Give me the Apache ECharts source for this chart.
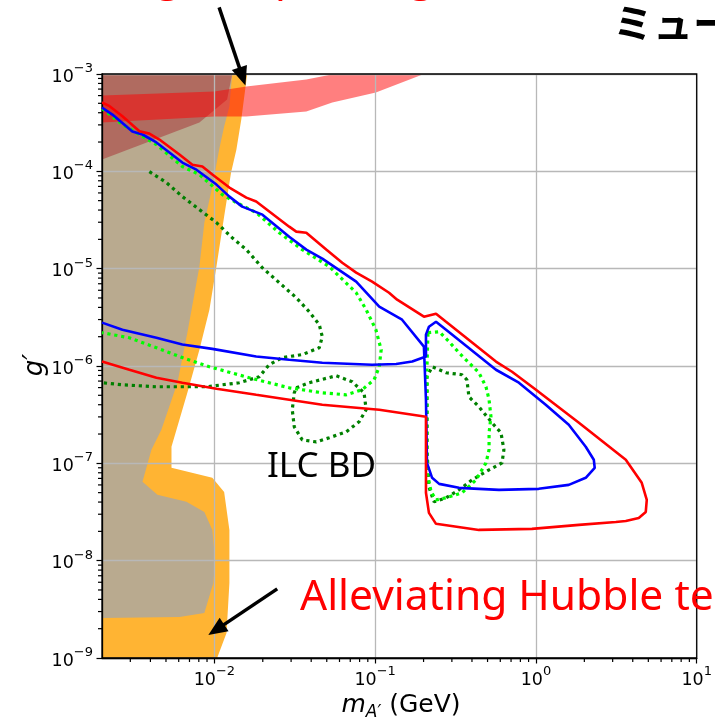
<!DOCTYPE html>
<html><head><meta charset="utf-8">
<script src="https://cdn.jsdelivr.net/npm/echarts@6/dist/echarts.min.js"></script>
<style>html,body{margin:0;padding:0;background:#fff}#c{width:715px;height:722px}</style>
</head><body><div id="c"></div>
<script>
// ---- axis ticks ----
const xMajorTicks = [0.01, 0.1, 1, 10];
const yMajorTicks = [1e-9, 1e-8, 1e-7, 1e-6, 1e-5, 1e-4, 1e-3];
const xMinorTicks = [0.003, 0.004, 0.005, 0.006, 0.007, 0.008, 0.009,
  0.02, 0.03, 0.04, 0.05, 0.06, 0.07, 0.08, 0.09,
  0.2, 0.3, 0.4, 0.5, 0.6, 0.7, 0.8, 0.9,
  2, 3, 4, 5, 6, 7, 8, 9];
const yMinorMantissas = [2, 3, 4, 5, 6, 7, 8, 9];
const yMinorDecades = [1e-9, 1e-8, 1e-7, 1e-6, 1e-5, 1e-4];

// ---- curves (m_A' [GeV], g') ----
const redLine = [[2.0e-3,5.09e-4],[2.23e-3,4.67e-4],[2.68e-3,3.68e-4],[3.42e-3,2.58e-4],[3.94e-3,2.44e-4],[4.55e-3,2.12e-4],[6.06e-3,1.49e-4],[7.30e-3,1.17e-4],[8.42e-3,1.12e-4],[9.71e-3,9.26e-5],[1.24e-2,6.81e-5],[1.58e-2,5.37e-5],[1.82e-2,4.89e-5],[2.92e-2,2.70e-5],[3.23e-2,2.40e-5],[3.73e-2,2.34e-5],[4.96e-2,1.57e-5],[6.24e-2,1.15e-5],[7.62e-2,9.1e-6],[9.57e-2,7.35e-6],[0.122,5.66e-6],[0.137,4.80e-6],[0.201,3.21e-6],[0.239,3.45e-6],[0.276,2.85e-6],[0.564,1.11e-6],[0.710,8.73e-7],[1.00,5.70e-7],[1.85,2.61e-7],[3.62,1.09e-7],[4.55,6.31e-8],[4.89,4.21e-8],[4.82,3.17e-8],[4.36,2.75e-8],[3.62,2.56e-8],[3.14,2.50e-8],[1.85,2.33e-8],[0.944,2.12e-8],[0.442,2.07e-8],[0.239,2.39e-8],[0.216,3.10e-8],[0.207,4.98e-8],[0.207,1.01e-7],[0.207,3.01e-7],[0.106,3.55e-7],[4.69e-2,4.0e-7],[2.92e-2,4.50e-7],[1.82e-2,5.06e-7],[1.03e-2,5.83e-7],[6.32e-3,6.73e-7],[4.36e-3,7.57e-7],[2.96e-3,9.15e-7],[2.0e-3,1.11e-6]];
const blueLine = [[2.0e-3,4.52e-4],[2.32e-3,3.83e-4],[3.09e-3,2.56e-4],[3.57e-3,2.39e-4],[4.36e-3,1.98e-4],[6.32e-3,1.23e-4],[7.73e-3,1.04e-4],[1.03e-2,7.31e-5],[1.24e-2,5.50e-5],[1.49e-2,4.34e-5],[1.99e-2,3.59e-5],[2.92e-2,2.13e-5],[3.73e-2,1.57e-5],[4.69e-2,1.27e-5],[7.62e-2,7.35e-6],[0.106,4.07e-6],[0.147,2.99e-6],[0.201,1.58e-6],[0.207,4.50e-7],[0.210,1.01e-7],[0.226,7.10e-8],[0.250,6.15e-8],[0.332,5.60e-8],[0.589,5.34e-8],[1.04,5.47e-8],[1.60,6.01e-8],[2.04,7.10e-8],[2.32,9.0e-8],[2.29,1.09e-7],[2.04,1.48e-7],[1.60,2.49e-7],[1.15,4.0e-7],[0.783,6.73e-7],[0.564,9.15e-7],[0.276,2.36e-6],[0.239,2.85e-6],[0.216,2.53e-6],[0.207,2.10e-6],[0.207,1.25e-6],[0.170,1.11e-6],[0.135,1.05e-6],[9.57e-2,1.03e-6],[4.69e-2,1.08e-6],[2.92e-2,1.16e-6],[1.82e-2,1.25e-6],[9.71e-3,1.50e-6],[6.32e-3,1.66e-6],[4.36e-3,1.95e-6],[2.68e-3,2.36e-6],[2.0e-3,2.79e-6]];
const limeLeft = [[2.0e-3,4.42e-4],[2.68e-3,3.03e-4],[3.42e-3,2.39e-4],[4.36e-3,1.88e-4],[6.32e-3,1.12e-4],[8.07e-3,9.26e-5],[1.12e-2,5.77e-5],[1.37e-2,4.77e-5],[1.82e-2,3.77e-5],[2.53e-2,2.34e-5],[3.52e-2,1.57e-5],[5.18e-2,1.05e-5],[7.62e-2,5.66e-6],[8.79e-2,3.79e-6],[0.101,2.36e-6],[0.109,1.47e-6],[0.106,9.82e-7],[9.85e-2,7.22e-7],[8.30e-2,5.70e-7],[6.61e-2,5.06e-7],[4.69e-2,5.31e-7],[2.92e-2,5.97e-7],[1.65e-2,7.57e-7],[9.31e-3,9.82e-7],[6.32e-3,1.22e-6],[4.36e-3,1.54e-6],[2.96e-3,1.95e-6],[2.0e-3,2.20e-6]];
const limeRight = [[0.213,2.20e-6],[0.250,2.25e-6],[0.288,1.78e-6],[0.332,1.37e-6],[0.383,1.08e-6],[0.442,8.53e-7],[0.489,6.12e-7],[0.511,4.50e-7],[0.525,3.01e-7],[0.511,2.06e-7],[0.511,1.38e-7],[0.489,1.01e-7],[0.424,6.76e-8],[0.347,4.98e-8],[0.276,4.42e-8],[0.239,4.21e-8],[0.223,5.09e-8],[0.210,7.99e-8],[0.210,2.06e-7],[0.210,9.82e-7],[0.213,2.20e-6]];
const greenLeft = [[3.94e-3,9.94e-5],[5.03e-3,7.66e-5],[6.32e-3,5.50e-5],[8.07e-3,4.04e-5],[1.03e-2,2.97e-5],[1.29e-2,2.08e-5],[1.58e-2,1.57e-5],[1.99e-2,1.02e-5],[2.53e-2,7.18e-6],[3.23e-2,5.03e-6],[3.89e-2,3.61e-6],[4.49e-2,2.66e-6],[4.69e-2,2.0e-6],[4.49e-2,1.54e-6],[3.52e-2,1.31e-6],[2.64e-2,1.22e-6],[2.19e-2,1.03e-6],[1.90e-2,7.75e-7],[1.43e-2,6.73e-7],[8.91e-3,6.12e-7],[4.36e-3,6.12e-7],[2.68e-3,6.41e-7],[2.0e-3,6.73e-7]];
const greenMid = [[3.23e-2,5.97e-7],[3.89e-2,6.73e-7],[5.72e-2,7.94e-7],[7.19e-2,6.89e-7],[8.53e-2,5.31e-7],[8.79e-2,3.55e-7],[7.94e-2,2.67e-7],[6.61e-2,2.11e-7],[5.18e-2,1.83e-7],[4.30e-2,1.66e-7],[3.52e-2,1.74e-7],[3.14e-2,2.37e-7],[3.05e-2,3.55e-7],[3.14e-2,5.31e-7],[3.23e-2,5.97e-7]];
const greenRight = [[0.210,4.50e-7],[0.210,7.75e-7],[0.226,9.82e-7],[0.276,8.53e-7],[0.347,8.13e-7],[0.372,7.22e-7],[0.383,4.83e-7],[0.442,3.81e-7],[0.533,2.61e-7],[0.606,2.06e-7],[0.632,1.38e-7],[0.615,1.01e-7],[0.511,8.57e-8],[0.400,6.76e-8],[0.332,5.34e-8],[0.276,4.42e-8],[0.232,4.02e-8],[0.216,5.73e-8],[0.210,1.38e-7],[0.210,4.50e-7]];

// ---- shaded regions ----
const orangeRegion = [[2.0e-3,1e-9],[1.04e-2,1e-9],[1.19e-2,1.81e-9],[1.24e-2,5.91e-9],[1.24e-2,2.07e-8],[1.15e-2,5.09e-8],[9.71e-3,7.10e-8],[5.41e-3,9.0e-8],[5.41e-3,1.48e-7],[6.79e-3,5.31e-7],[8.07e-3,1.47e-6],[9.31e-3,3.79e-6],[1.03e-2,1.05e-5],[1.15e-2,3.43e-5],[1.27e-2,9.71e-5],[1.37e-2,1.67e-4],[1.47e-2,3.40e-4],[1.60e-2,1e-3],[2.0e-3,1e-3]];
const tanRegion = [[2.0e-3,2.58e-9],[6.06e-3,2.64e-9],[8.66e-3,2.90e-9],[9.85e-3,5.91e-9],[1.01e-2,1.02e-8],[9.71e-3,2.07e-8],[8.66e-3,3.17e-8],[6.70e-3,4.02e-8],[4.42e-3,4.75e-8],[3.57e-3,6.45e-8],[4.06e-3,1.38e-7],[4.68e-3,2.21e-7],[5.89e-3,6.73e-7],[6.79e-3,2.20e-6],[8.07e-3,1.05e-5],[8.66e-3,2.97e-5],[9.71e-3,6.97e-5],[1.07e-2,1.67e-4],[1.15e-2,2.88e-4],[1.24e-2,4.63e-4],[1.29e-2,1e-3],[2.0e-3,1e-3]];
const brownRegion = [[2.0e-3,1e-3],[2.0e-3,1.32e-4],[8.07e-3,3.17e-4],[1.20e-2,5.47e-4],[1.29e-2,1e-3]];
const redBand = [[2.0e-3,6.01e-4],[1.0e-2,6.61e-4],[1.58e-2,7.44e-4],[3.73e-2,8.78e-4],[5.56e-2,1e-3],[0.201,1e-3],[0.101,6.45e-4],[5.41e-2,5.09e-4],[3.73e-2,4.12e-4],[1.58e-2,3.66e-4],[1.0e-2,3.66e-4],[2.0e-3,3.17e-4]];

// ---- annotation arrows (tail, tip) in data coords ----
const arrowTop = [[1.07e-2,4.83e-3],[1.56e-2,7.62e-4]];
const arrowBottom = [[2.46e-2,5.13e-9],[9.17e-3,1.72e-9]];

const X_MIN = 0.002, X_MAX = 10, Y_MIN = 1e-9, Y_MAX = 1e-3;
const chart = echarts.init(document.getElementById('c'), null, {renderer: 'canvas'});

function supLabel(v) {
  const e = Math.round(Math.log10(v));
  return '{b|10}{s|' + (e < 0 ? '\u2212' : '') + Math.abs(e) + '}';
}
const richLab = {
  b: {fontSize: 17.5, fontFamily: 'DejaVu Sans', color: '#000', lineHeight: 24, verticalAlign: 'bottom'},
  s: {fontSize: 13, fontFamily: 'DejaVu Sans', color: '#000', lineHeight: 24, verticalAlign: 'top'}
};

function polySeries(pts, color, opacity, z) {
  return {
    type: 'custom', coordinateSystem: 'cartesian2d', xAxisIndex: 0, yAxisIndex: 0,
    silent: true, z: z, data: pts, encode: {x: 0, y: 1},
    renderItem: function (params, api) {
      if (params.dataIndex !== 0) return null;
      const points = pts.map(p => api.coord(p));
      return {type: 'polygon', shape: {points: points}, style: {fill: color, opacity: opacity, stroke: null}};
    }
  };
}
function lineSeries(pts, color, dotted) {
  return {
    type: 'line', xAxisIndex: 0, yAxisIndex: 0, data: pts, showSymbol: false, symbol: 'none',
    silent: true, z: 6,
    lineStyle: dotted ? {color: color, width: 3.2, type: [3.2, 3.8]} : {color: color, width: 2.6}
  };
}

chart.setOption({
  animation: false,
  backgroundColor: '#fff',
  grid: {left: 102, right: 15, top: 74, bottom: 64, show: true, borderColor: '#000', borderWidth: 1.3, backgroundColor: 'transparent', z: 5},
  xAxis: {
    type: 'log', logBase: 10, min: X_MIN, max: X_MAX,
    position: 'bottom', z: 4,
    axisLine: {show: true, lineStyle: {color: '#000', width: 1.3}},
    axisTick: {show: true, length: 5.5, customValues: xMajorTicks, lineStyle: {color: '#000', width: 1.2}},
    axisLabel: {show: true, customValues: xMajorTicks, margin: 7, formatter: supLabel, rich: richLab},
    splitLine: {show: true, lineStyle: {color: '#b8b8b8', width: 1.3}},
    minorTick: {show: false}
  },
  yAxis: {
    type: 'log', logBase: 10, min: Y_MIN, max: Y_MAX,
    position: 'left', z: 4,
    axisLine: {show: true, lineStyle: {color: '#000', width: 1.3}},
    axisTick: {show: true, length: 5.5, customValues: yMajorTicks, lineStyle: {color: '#000', width: 1.2}},
    axisLabel: {show: true, customValues: yMajorTicks, margin: 9, formatter: supLabel, rich: richLab},
    splitLine: {show: true, lineStyle: {color: '#b8b8b8', width: 1.3}}
  },
  series: [
    polySeries(orangeRegion, '#ffb433', 1, 1),
    polySeries(tanRegion, '#b9aa8f', 1, 1),
    polySeries(brownRegion, '#b06b60', 1, 1),
    polySeries(redBand, '#ff0000', 0.5, 1),
    lineSeries(greenLeft, '#008000', true),
    lineSeries(greenMid, '#008000', true),
    lineSeries(greenRight, '#008000', true),
    lineSeries(limeLeft, '#00ff00', true),
    lineSeries(limeRight, '#00ff00', true),
    lineSeries(blueLine, '#0000ff', false),
    lineSeries(redLine, '#ff0000', false)
  ]
});

function toPx(v) { return chart.convertToPixel({xAxisIndex: 0, yAxisIndex: 0}, v); }

function arrow(pair) {
  const p0 = toPx(pair[0]);
  const p1 = toPx(pair[1]);
  const dx = p1[0] - p0[0], dy = p1[1] - p0[1];
  const L = Math.sqrt(dx * dx + dy * dy);
  const ux = dx / L, uy = dy / L, nx = -uy, ny = ux;
  const hl = 19, hw = 8;
  const bx = p1[0] - ux * hl, by = p1[1] - uy * hl;
  return [
    {type: 'line', z: 20, shape: {x1: p0[0], y1: p0[1], x2: bx + ux * 2, y2: by + uy * 2}, style: {stroke: '#000', lineWidth: 3.5}},
    {type: 'polygon', z: 20, shape: {points: [[p1[0], p1[1]], [bx + nx * hw, by + ny * hw], [bx - nx * hw, by - ny * hw]]}, style: {fill: '#000'}}
  ];
}
// matplotlib-style log minor ticks, positioned through the axis scales
const minorTicks = [];
for (let i = 0; i < xMinorTicks.length; i++) {
  const p = toPx([xMinorTicks[i], Y_MIN]);
  minorTicks.push({type: 'line', z: 30, shape: {x1: p[0], y1: p[1], x2: p[0], y2: p[1] + 4}, style: {stroke: '#000', lineWidth: 1.2}});
}
for (let d = 0; d < yMinorDecades.length; d++) {
  for (let k = 0; k < yMinorMantissas.length; k++) {
    const p = toPx([X_MIN, yMinorMantissas[k] * yMinorDecades[d]]);
    minorTicks.push({type: 'line', z: 30, shape: {x1: p[0], y1: p[1], x2: p[0] - 4, y2: p[1]}, style: {stroke: '#000', lineWidth: 1.2}});
  }
}

const graphics = [].concat(
  arrow(arrowTop),
  arrow(arrowBottom),
  minorTicks,
  [
    {type: 'text', z: 20, x: 28, y: -21, style: {text: 'muon g-2 explaining', fill: '#ff0000', font: '42px "Noto Sans"', align: 'left', verticalAlign: 'middle'}},
    {type: 'text', z: 20, x: 613, y: 23, style: {text: 'ミューオン g-2', fill: '#000', font: 'bold 40px "Noto Sans CJK JP"', align: 'left', verticalAlign: 'middle'}},
    {type: 'text', z: 20, x: 267, y: 467, style: {text: 'ILC BD', fill: '#000', font: '35px "Noto Sans"', align: 'left', verticalAlign: 'middle'}},
    {type: 'text', z: 20, x: 300, y: 598, style: {text: 'Alleviating Hubble tension', fill: '#ff0000', font: '42.5px "Noto Sans"', align: 'left', verticalAlign: 'middle'}},
    {type: 'text', z: 20, x: 35, y: 365, rotation: Math.PI / 2, style: {text: 'g\u2032', fill: '#000', font: 'italic 26px "DejaVu Sans"', align: 'center', verticalAlign: 'middle'}},
    {type: 'text', z: 20, x: 401, y: 705, style: {
      text: '{i|m}{s|A\u2032}{r| (GeV)}', align: 'center', verticalAlign: 'middle',
      rich: {
        i: {fontSize: 25, fontStyle: 'italic', fontFamily: 'DejaVu Sans', fill: '#000', lineHeight: 32, verticalAlign: 'middle'},
        s: {fontSize: 17, fontStyle: 'italic', fontFamily: 'DejaVu Sans', fill: '#000', lineHeight: 32, verticalAlign: 'bottom'},
        r: {fontSize: 25, fontFamily: 'DejaVu Sans', fill: '#000', lineHeight: 32, verticalAlign: 'middle'}
      }}}
  ]
);
chart.setOption({graphic: graphics});
</script></body></html>
